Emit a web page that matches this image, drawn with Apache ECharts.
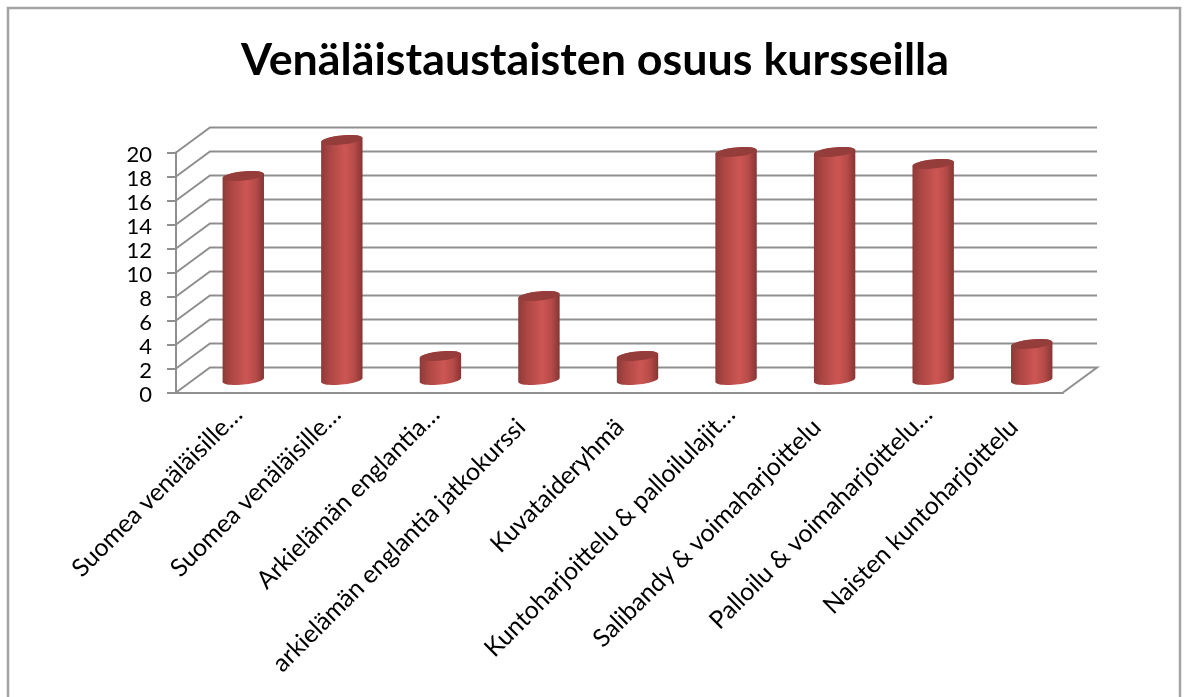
<!DOCTYPE html>
<html>
<head>
<meta charset="utf-8">
<title>Venäläistaustaisten osuus kursseilla</title>
<style>
html,body{margin:0;padding:0;background:#fff;}
#main{width:1186px;height:697px;}
</style>
<script src="https://cdn.jsdelivr.net/npm/echarts@6/dist/echarts.min.js"></script>
</head>
<body>
<div id="main"></div>
<script>
var categories = [
	'Suomea venäläisille…',
	'Suomea venäläisille…',
	'Arkielämän englantia…',
	'arkielämän englantia jatkokurssi',
	'Kuvataideryhmä',
	'Kuntoharjoittelu & palloilulajit…',
	'Salibandy & voimaharjoittelu',
	'Palloilu & voimaharjoittelu…',
	'Naisten kuntoharjoittelu'
];
var values = [17, 20, 2, 7, 2, 19, 19, 18, 3];
var yTicks = [0, 2, 4, 6, 8, 10, 12, 14, 16, 18, 20];

// 3D depth of the plot box, in pixels
var depthX = 34;
var depthY = -25;
var grey = '#8f8f8f';
var fontName = 'Lato, Carlito, sans-serif';

// points of a slightly tilted ellipse, from angle a0 to a1
function ellipse(cx, cy, rx, ry, a0, a1) {
	var pts = [];
	for (var i = 0; i <= 24; i++) {
		var a = a0 + (a1 - a0) * i / 24;
		pts.push([cx + rx * Math.cos(a), cy + ry * Math.sin(a) - 2 * Math.cos(a)]);
	}
	return pts;
}

// gridlines on the side and back walls
function renderWall(params, api) {
	var box = params.coordSys;
	var y = api.coord([0, api.value(1)])[1];
	var pts = [[box.x, y], [box.x + depthX, y + depthY], [box.x + box.width + depthX, y + depthY]];
	if (api.value(1) === 0) {
		pts.push([box.x + box.width, y]);
	}
	return {
		type: 'polyline',
		shape: { points: pts },
		style: { stroke: grey, lineWidth: 2, fill: null }
	};
}

function renderCylinder(params, api) {
	var top = api.coord([api.value(0), api.value(1)]);
	var base = api.coord([api.value(0), 0]);
	var rx = api.size([1, 0])[0] * 0.21;
	var cx = top[0] + depthX / 2 + 1;
	var yTop = top[1] + depthY / 2;
	var yBase = base[1] + depthY / 2;
	var ry = 4.6;
	var body = ellipse(cx, yBase, rx, ry, 0, Math.PI).concat(ellipse(cx, yTop, rx, ry, Math.PI, 2 * Math.PI));
	return {
		type: 'group',
		children: [{
			type: 'polygon',
			shape: { points: body },
			style: {
				fill: new echarts.graphic.LinearGradient(0, 0, 1, 0, [
					{ offset: 0, color: '#8e3a38' },
					{ offset: 0.22, color: '#ad4744' },
					{ offset: 0.58, color: '#cd5653' },
					{ offset: 0.8, color: '#b64b48' },
					{ offset: 1, color: '#863533' }
				])
			}
		}, {
			type: 'polygon',
			shape: { points: ellipse(cx, yTop, rx, ry, 0, 2 * Math.PI) },
			style: { fill: '#953d3b' }
		}]
	};
}

var option = {
	backgroundColor: '#ffffff',
	animation: false,
	title: {
		text: 'Venäläistaustaisten osuus kursseilla',
		left: 590,
		top: 33,
		textAlign: 'center',
		textStyle: { fontFamily: fontName, fontWeight: 'bold', fontSize: 44.8, color: '#000000' }
	},
	graphic: [{
		type: 'rect',
		shape: { x: 8, y: 8, width: 1172, height: 720 },
		style: { fill: null, stroke: '#a3a3a3', lineWidth: 2.5 },
		silent: true
	}],
	// second grid only carries the slanted labels, shifted to the right of the ticks
	grid: [
		{ left: 176, top: 152.5, width: 887, height: 240 },
		{ left: 189, top: 152.5, width: 887, height: 240 }
	],
	xAxis: [{
		type: 'category',
		data: categories,
		axisLine: { lineStyle: { color: grey, width: 2 } },
		axisTick: { length: 8, lineStyle: { color: grey, width: 2 } },
		axisLabel: { show: false }
	}, {
		type: 'category',
		gridIndex: 1,
		data: categories,
		axisLine: { show: false },
		axisTick: { show: false },
		axisLabel: {
			interval: 0,
			rotate: 45,
			margin: 18,
			fontFamily: fontName,
			fontSize: 24.8,
			color: '#000000',
			// labels without the ellipsis sit further back along the slant
			formatter: function (v) {
				return v.charAt(v.length - 1) === '…' ? '{cut|' + v + '}' : '{full|' + v + '}';
			},
			rich: {
				cut: { fontFamily: fontName, fontSize: 24.8, color: '#000000' },
				full: { fontFamily: fontName, fontSize: 24.8, color: '#000000', padding: [0, 18, 0, 0] }
			}
		}
	}],
	yAxis: [{
		type: 'value',
		min: 0,
		max: 20,
		interval: 2,
		splitLine: { show: false },
		axisLine: { show: true, lineStyle: { color: grey, width: 2 } },
		axisTick: { show: true, length: 9, lineStyle: { color: grey, width: 2 } },
		axisLabel: {
			margin: 24,
			formatter: '{n|{value}}',
			rich: {
				n: { fontFamily: fontName, fontSize: 22, color: '#000000', padding: [4, 0, 0, 0] }
			}
		}
	}, {
		type: 'value',
		gridIndex: 1,
		min: 0,
		max: 20,
		interval: 2,
		show: false
	}],
	series: [{
		type: 'custom',
		renderItem: renderWall,
		data: yTicks.map(function (t) { return [0, t]; }),
		clip: false,
		silent: true,
		z: 1
	}, {
		type: 'custom',
		renderItem: renderCylinder,
		data: values.map(function (v, i) { return [i, v]; }),
		clip: false,
		z: 3
	}]
};

echarts.init(document.getElementById('main')).setOption(option);
</script>
</body>
</html>
